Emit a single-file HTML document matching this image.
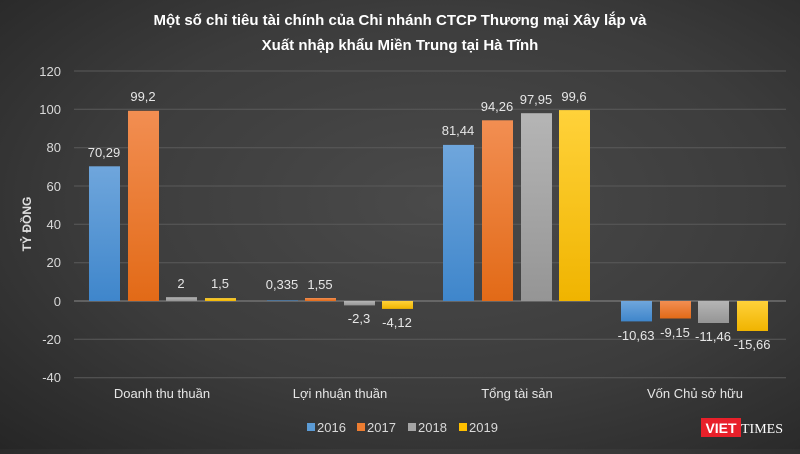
<!DOCTYPE html>
<html><head><meta charset="utf-8"><style>
body{margin:0;width:800px;height:449px;overflow:hidden;background:radial-gradient(ellipse at 55% 45%,#4a4a4a 0%,#3c3c3c 55%,#262626 100%);font-family:"Liberation Sans",sans-serif}
</style></head><body>
<svg width="800" height="449" xmlns="http://www.w3.org/2000/svg" font-family="Liberation Sans, sans-serif">
<defs>
<linearGradient id="b" x1="0" y1="0" x2="0" y2="1"><stop offset="0" stop-color="#6fa6dc"/><stop offset="1" stop-color="#3f86cb"/></linearGradient>
<linearGradient id="o" x1="0" y1="0" x2="0" y2="1"><stop offset="0" stop-color="#f28e52"/><stop offset="1" stop-color="#e26a17"/></linearGradient>
<linearGradient id="g" x1="0" y1="0" x2="0" y2="1"><stop offset="0" stop-color="#b5b5b5"/><stop offset="1" stop-color="#959595"/></linearGradient>
<linearGradient id="y" x1="0" y1="0" x2="0" y2="1"><stop offset="0" stop-color="#ffd23a"/><stop offset="1" stop-color="#f0b400"/></linearGradient>
</defs>
<text x="400" y="25" fill="#fff" font-size="15" font-weight="bold" text-anchor="middle">Một số chỉ tiêu tài chính của Chi nhánh CTCP Thương mại Xây lắp và</text>
<text x="400" y="50" fill="#fff" font-size="15" font-weight="bold" text-anchor="middle">Xuất nhập khẩu Miền Trung tại Hà Tĩnh</text>
<g stroke="#5a5a5a" stroke-width="1">
<line x1="74" x2="786" y1="71" y2="71"/><line x1="74" x2="786" y1="109.3" y2="109.3"/><line x1="74" x2="786" y1="147.7" y2="147.7"/><line x1="74" x2="786" y1="186" y2="186"/><line x1="74" x2="786" y1="224.3" y2="224.3"/><line x1="74" x2="786" y1="262.7" y2="262.7"/><line x1="74" x2="786" y1="339.3" y2="339.3"/><line x1="74" x2="786" y1="377.7" y2="377.7"/>
</g>
<line x1="74" x2="786" y1="301" y2="301" stroke="#8a8a8a"/>
<g fill="#d9d9d9" font-size="13" text-anchor="end">
<text x="61" y="76">120</text><text x="61" y="114">100</text><text x="61" y="152">80</text><text x="61" y="191">60</text><text x="61" y="229">40</text><text x="61" y="267">20</text><text x="61" y="306">0</text><text x="61" y="344">-20</text><text x="61" y="382">-40</text>
</g>
<text transform="translate(31,224) rotate(-90)" fill="#e0e0e0" font-size="12" font-weight="bold" text-anchor="middle">TỶ ĐỒNG</text>
<g>
<rect x="89" y="166.3" width="31" height="134.7" fill="url(#b)"/>
<rect x="128" y="110.8" width="31" height="190.2" fill="url(#o)"/>
<rect x="166" y="297.2" width="31" height="3.8" fill="url(#g)"/>
<rect x="205" y="298.1" width="31" height="2.9" fill="url(#y)"/>
<rect x="267" y="300.4" width="31" height="0.6" fill="url(#b)"/>
<rect x="305" y="298" width="31" height="3" fill="url(#o)"/>
<rect x="344" y="301" width="31" height="4.4" fill="url(#g)"/>
<rect x="382" y="301" width="31" height="7.9" fill="url(#y)"/>
<rect x="443" y="144.9" width="31" height="156.1" fill="url(#b)"/>
<rect x="482" y="120.3" width="31" height="180.7" fill="url(#o)"/>
<rect x="521" y="113.2" width="31" height="187.8" fill="url(#g)"/>
<rect x="559" y="110.1" width="31" height="190.9" fill="url(#y)"/>
<rect x="621" y="301" width="31" height="20.4" fill="url(#b)"/>
<rect x="660" y="301" width="31" height="17.5" fill="url(#o)"/>
<rect x="698" y="301" width="31" height="22" fill="url(#g)"/>
<rect x="737" y="301" width="31" height="30" fill="url(#y)"/>
</g>
<g fill="#e6e6e6" font-size="13" text-anchor="middle">
<text x="104" y="157">70,29</text><text x="143" y="101">99,2</text><text x="181" y="288">2</text><text x="220" y="288">1,5</text>
<text x="282" y="289">0,335</text><text x="320" y="289">1,55</text><text x="359" y="323">-2,3</text><text x="397" y="327">-4,12</text>
<text x="458" y="135">81,44</text><text x="497" y="111">94,26</text><text x="536" y="104">97,95</text><text x="574" y="101">99,6</text>
<text x="636" y="340">-10,63</text><text x="675" y="337">-9,15</text><text x="713" y="341">-11,46</text><text x="752" y="349">-15,66</text>
</g>
<g fill="#e6e6e6" font-size="13" text-anchor="middle">
<text x="162" y="398">Doanh thu thuần</text><text x="340" y="398">Lợi nhuận thuần</text><text x="517" y="398">Tổng tài sản</text><text x="695" y="398">Vốn Chủ sở hữu</text>
</g>
<g font-size="13" fill="#d9d9d9">
<rect x="307" y="423" width="8" height="8" fill="#5b9bd5"/><text x="317" y="432">2016</text>
<rect x="357" y="423" width="8" height="8" fill="#ed7d31"/><text x="367" y="432">2017</text>
<rect x="408" y="423" width="8" height="8" fill="#a5a5a5"/><text x="418" y="432">2018</text>
<rect x="459" y="423" width="8" height="8" fill="#ffc000"/><text x="469" y="432">2019</text>
</g>
<rect x="701" y="418" width="40" height="19" fill="#e8202a"/>
<text x="721" y="433" fill="#fff" font-size="14" font-weight="bold" text-anchor="middle">VIET</text>
<text x="741" y="433" fill="#fff" font-size="14" font-family="Liberation Serif, serif">TIMES</text>
</svg>
</body></html>
